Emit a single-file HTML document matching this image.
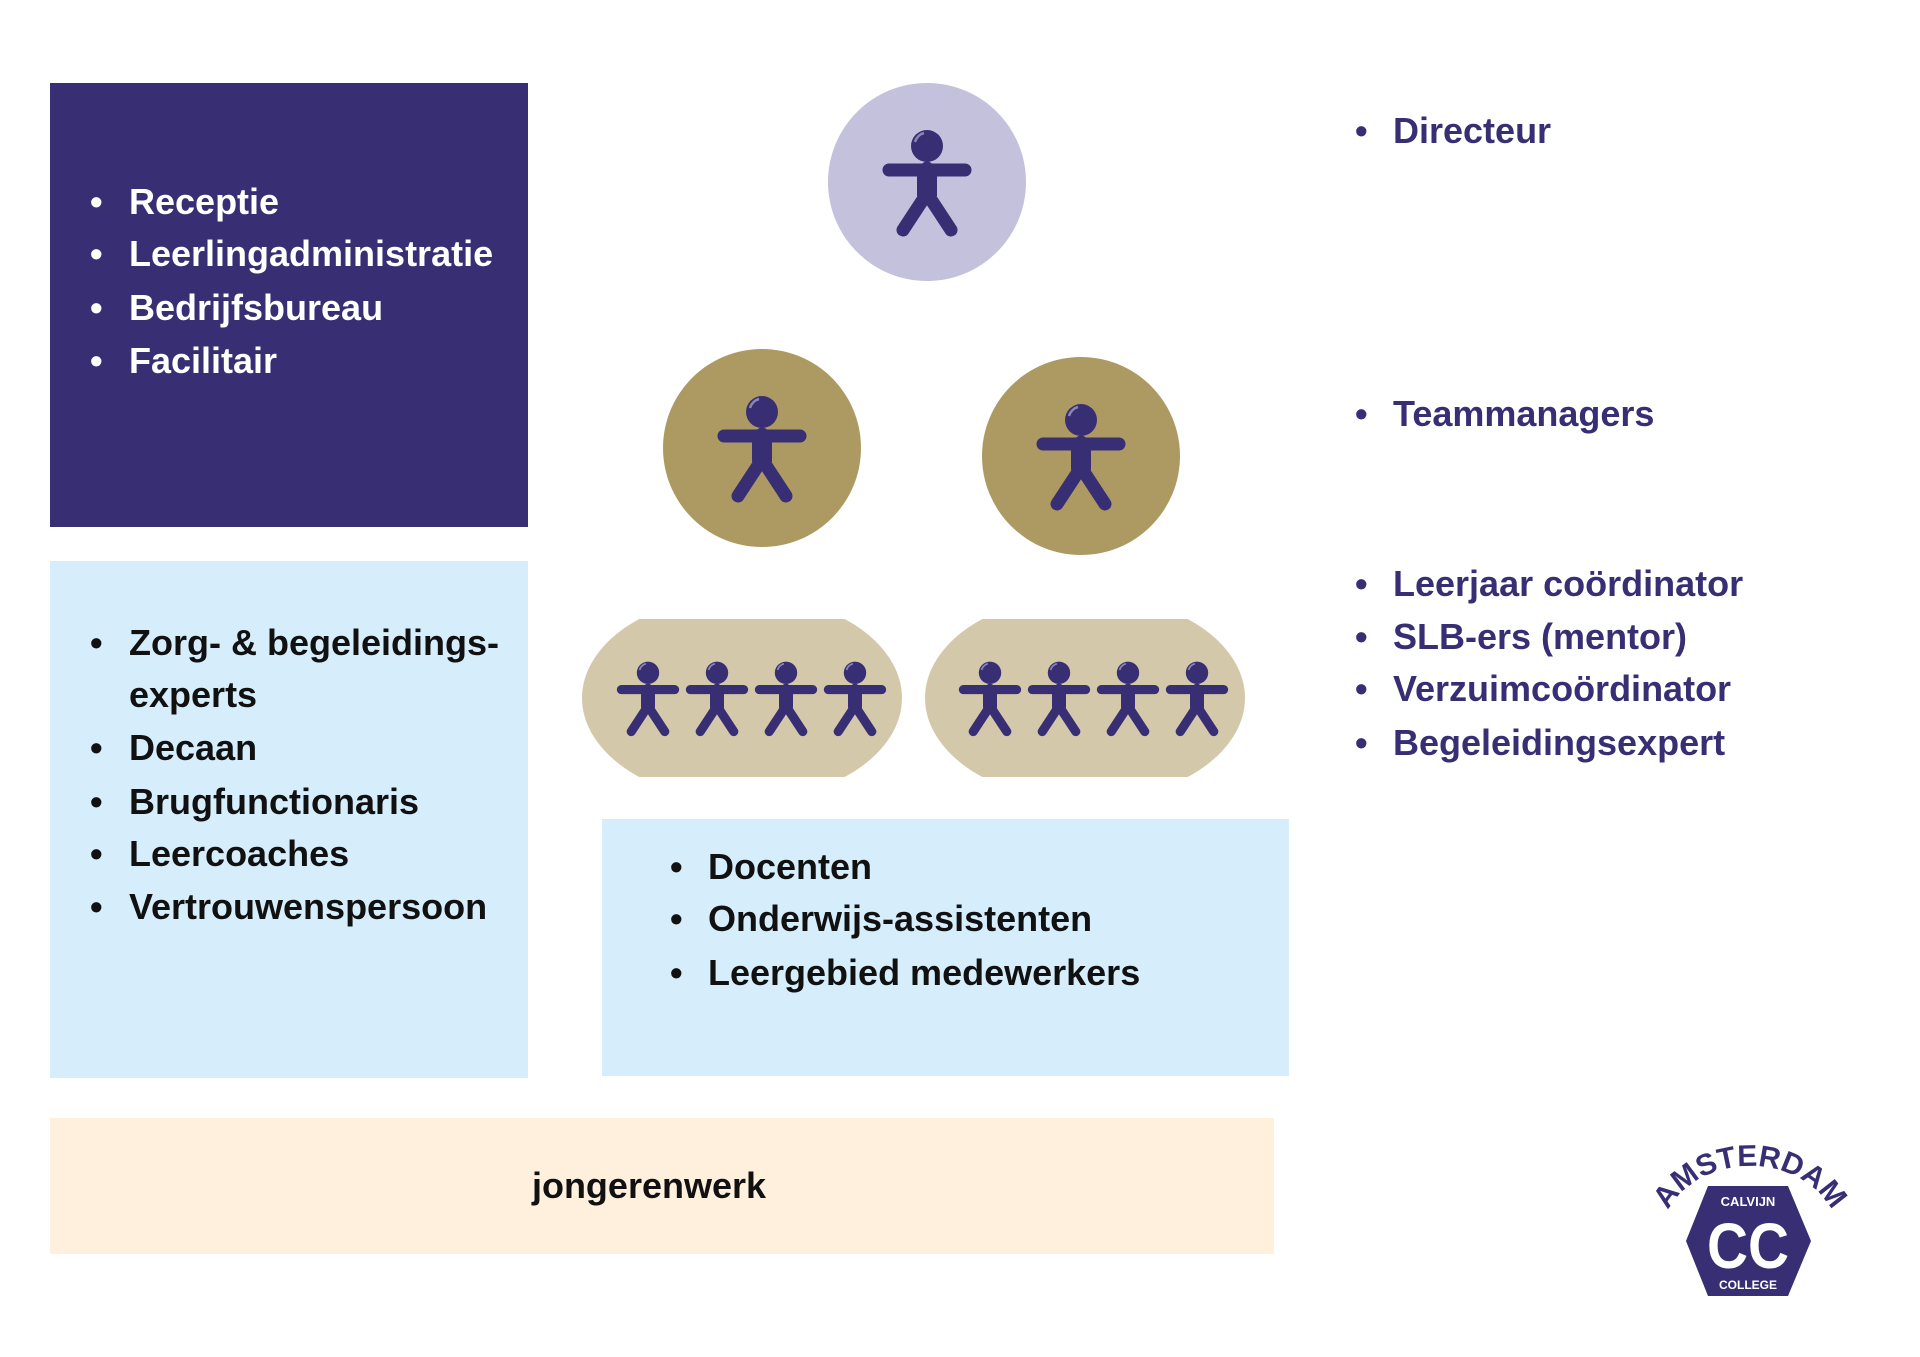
<!DOCTYPE html>
<html><head><meta charset="utf-8"><style>
html,body{margin:0;padding:0;background:#fff;}
svg{display:block;}
text{font-family:"Liberation Sans",sans-serif;font-weight:bold;}
</style></head><body>
<svg width="1920" height="1357" viewBox="0 0 1920 1357" xmlns="http://www.w3.org/2000/svg">
<defs>
<g id="p">
  <circle cx="0" cy="-36" r="16" fill="#372e74"/>
  <path d="M-12,-40 a13,13 0 0 1 9,-9" stroke="#8a84b8" stroke-width="2.5" fill="none"/>
  <g stroke="#372e74" stroke-width="13" stroke-linecap="round" fill="none">
    <line x1="-38" y1="-12" x2="38" y2="-12"/>
    <line x1="0" y1="-14" x2="0" y2="12"/>
    <path d="M-24,48 L-3,16 L3,16 L24,48" stroke-linejoin="round"/>
  </g>
  <rect x="-10" y="-14" width="20" height="28" fill="#372e74"/>
</g>
<clipPath id="ov"><rect x="0" y="619" width="1920" height="158"/></clipPath>
<path id="arc" d="M1662,1226 A90,76 0 0 1 1838,1226"/>
</defs>

<rect x="50" y="83" width="478" height="444" fill="#372e74"/>
<rect x="50" y="561" width="478" height="517" fill="#d6eefc"/>
<rect x="602" y="819" width="687" height="257" fill="#d6eefc"/>
<rect x="50" y="1118" width="1224" height="136" fill="#fff0de"/>

<circle cx="927" cy="182" r="99" fill="#c3c1db"/>
<circle cx="762" cy="448" r="99" fill="#ad9a63"/>
<circle cx="1081" cy="456" r="99" fill="#ad9a63"/>
<use href="#p" x="927" y="182"/>
<use href="#p" x="762" y="448"/>
<use href="#p" x="1081" y="456"/>

<g clip-path="url(#ov)">
  <ellipse cx="742" cy="698" rx="160" ry="103" fill="#d3c8a9"/>
  <ellipse cx="1085" cy="698" rx="160" ry="103" fill="#d3c8a9"/>
</g>
<g transform="translate(648,698) scale(0.7)"><use href="#p"/></g>
<g transform="translate(717,698) scale(0.7)"><use href="#p"/></g>
<g transform="translate(786,698) scale(0.7)"><use href="#p"/></g>
<g transform="translate(855,698) scale(0.7)"><use href="#p"/></g>
<g transform="translate(990,698) scale(0.7)"><use href="#p"/></g>
<g transform="translate(1059,698) scale(0.7)"><use href="#p"/></g>
<g transform="translate(1128,698) scale(0.7)"><use href="#p"/></g>
<g transform="translate(1197,698) scale(0.7)"><use href="#p"/></g>

<g font-size="36" fill="#fff">
  <text x="90" y="214">•</text><text x="129" y="214">Receptie</text>
  <text x="90" y="266">•</text><text x="129" y="266">Leerlingadministratie</text>
  <text x="90" y="320">•</text><text x="129" y="320">Bedrijfsbureau</text>
  <text x="90" y="373">•</text><text x="129" y="373">Facilitair</text>
</g>
<g font-size="36" fill="#111">
  <text x="90" y="655">•</text><text x="129" y="655">Zorg- &amp; begeleidings-</text>
  <text x="129" y="707">experts</text>
  <text x="90" y="760">•</text><text x="129" y="760">Decaan</text>
  <text x="90" y="814">•</text><text x="129" y="814">Brugfunctionaris</text>
  <text x="90" y="866">•</text><text x="129" y="866">Leercoaches</text>
  <text x="90" y="919">•</text><text x="129" y="919">Vertrouwenspersoon</text>
  <text x="670" y="879">•</text><text x="708" y="879">Docenten</text>
  <text x="670" y="931">•</text><text x="708" y="931">Onderwijs-assistenten</text>
  <text x="670" y="985">•</text><text x="708" y="985">Leergebied medewerkers</text>
  <text x="649" y="1198" text-anchor="middle">jongerenwerk</text>
</g>
<g font-size="36" fill="#372e74">
  <text x="1355" y="143">•</text><text x="1393" y="143">Directeur</text>
  <text x="1355" y="426">•</text><text x="1393" y="426">Teammanagers</text>
  <text x="1355" y="596">•</text><text x="1393" y="596">Leerjaar coördinator</text>
  <text x="1355" y="649">•</text><text x="1393" y="649">SLB-ers (mentor)</text>
  <text x="1355" y="701">•</text><text x="1393" y="701">Verzuimcoördinator</text>
  <text x="1355" y="755">•</text><text x="1393" y="755">Begeleidingsexpert</text>
</g>

<polygon points="1708,1186 1788,1186 1811,1241 1788,1296 1708,1296 1686,1241" fill="#372e74"/>
<text font-size="30" fill="#372e74" font-family="Liberation Serif,serif"><textPath href="#arc" startOffset="50%" text-anchor="middle">AMSTERDAM</textPath></text>
<text x="1748" y="1206" font-size="13" fill="#fff" text-anchor="middle">CALVIJN</text>
<text x="1748" y="1268" font-size="64" fill="#fff" text-anchor="middle" textLength="82" lengthAdjust="spacingAndGlyphs">CC</text>
<text x="1748" y="1289" font-size="12" fill="#fff" text-anchor="middle">COLLEGE</text>
</svg>
</body></html>
